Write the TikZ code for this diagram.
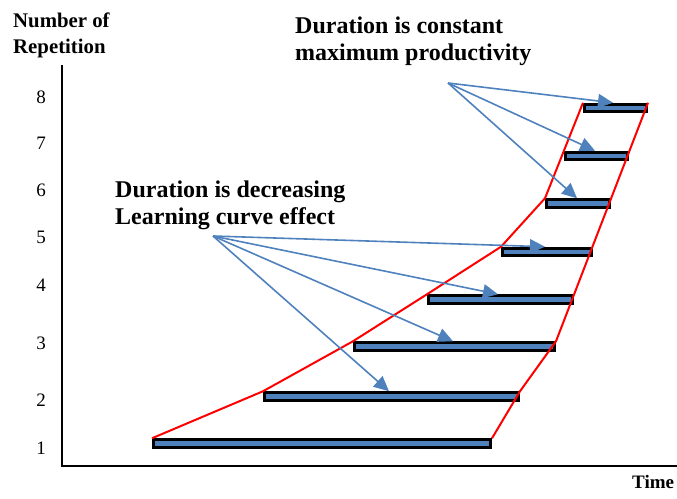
\documentclass[tikz,border=0pt]{standalone}
\usepackage{fontspec}
\setmainfont{Liberation Serif}
\usetikzlibrary{arrows.meta,calc}
\definecolor{barblue}{HTML}{4F81BD}
\begin{document}
\begin{tikzpicture}[x=1pt,y=-1pt,
  bar/.style={draw=black,fill=barblue,line width=2.8pt,minimum height=7.7pt,inner sep=0pt,anchor=center},
  ptr/.style={draw=barblue,line width=1.6pt,-{Triangle[length=15pt,width=14pt,fill=barblue]}},
  redln/.style={draw=red,line width=2pt,line join=round},
  axisln/.style={draw=black,line width=2.5pt},
  bigtxt/.style={font=\fontsize{24}{27}\selectfont\bfseries,inner sep=0pt,anchor=base west},
  headtxt/.style={font=\fontsize{20.8}{24}\selectfont\bfseries,inner sep=0pt,anchor=base west},
  numtxt/.style={font=\fontsize{19}{22}\selectfont,inner sep=0pt,anchor=base}
]
\useasboundingbox (0,0) rectangle (677,498);

% axes
\coordinate (ytop) at (62,65);
\coordinate (orig) at (62,466);
\coordinate (xend) at (677,466);
\draw[axisln] (ytop) -- (orig) -- (xend);

% bars
\node[bar,minimum width=337.2pt] (b1) at (322,443.5) {};
\node[bar,minimum width=254.2pt] (b2) at (391.5,396.5) {};
\node[bar,minimum width=200.2pt] (b3) at (454.5,346.5) {};
\node[bar,minimum width=144.2pt] (b4) at (500.5,299.5) {};
\node[bar,minimum width=89.2pt] (b5) at (547,252) {};
\node[bar,minimum width=63.2pt] (b6) at (578,203.5) {};
\node[bar,minimum width=62.2pt] (b7) at (596.5,156) {};
\node[bar,minimum width=62.2pt] (b8) at (615.5,108) {};

% red envelope lines
\draw[redln] (b1.north west) -- (b2.north west) -- (b3.north west) -- (b4.north west)
  -- (b5.north west) -- (b6.north west) -- (b8.north west);
\draw[redln] (b1.north east) -- (b2.north east) -- (b3.north east) -- (b8.north east);

% arrows
\coordinate (srcA) at (213,236);
\coordinate (srcB) at (448,83);
\draw[ptr] (srcA) -- ([xshift=126pt]b2.north west);
\draw[ptr] (srcA) -- ([xshift=100pt]b3.north west);
\draw[ptr] (srcA) -- ([xshift=71pt]b4.north west);
\draw[ptr] (srcA) -- ([xshift=44pt]b5.north west);
\draw[ptr] (srcB) -- ([xshift=32pt]b6.north west);
\draw[ptr] (srcB) -- ([xshift=31pt]b7.north west);
\draw[ptr] (srcB) -- ([xshift=30pt]b8.north west);

% texts
\node[headtxt] (yl1) at (13,27) {Number of};
\node[headtxt] (yl2) at (13,53) {Repetition};
\node[bigtxt] (tc1) at (295,33) {Duration is constant};
\node[bigtxt] (tc2) at (295,60) {maximum productivity};
\node[bigtxt] (td1) at (115,197) {Duration is decreasing};
\node[bigtxt] (td2) at (115,224) {Learning curve effect};
\node[font=\fontsize{19}{22}\selectfont\bfseries,inner sep=0pt,anchor=base west] (tm) at (632,488) {Time};

\node[numtxt] (n8) at (41,103.5) {8};
\node[numtxt] (n7) at (41,149.5) {7};
\node[numtxt] (n6) at (41,196.5) {6};
\node[numtxt] (n5) at (41,243.5) {5};
\node[numtxt] (n4) at (41,291.5) {4};
\node[numtxt] (n3) at (41,349.5) {3};
\node[numtxt] (n2) at (41,406.5) {2};
\node[numtxt] (n1) at (41,454.5) {1};
\end{tikzpicture}
\end{document}
